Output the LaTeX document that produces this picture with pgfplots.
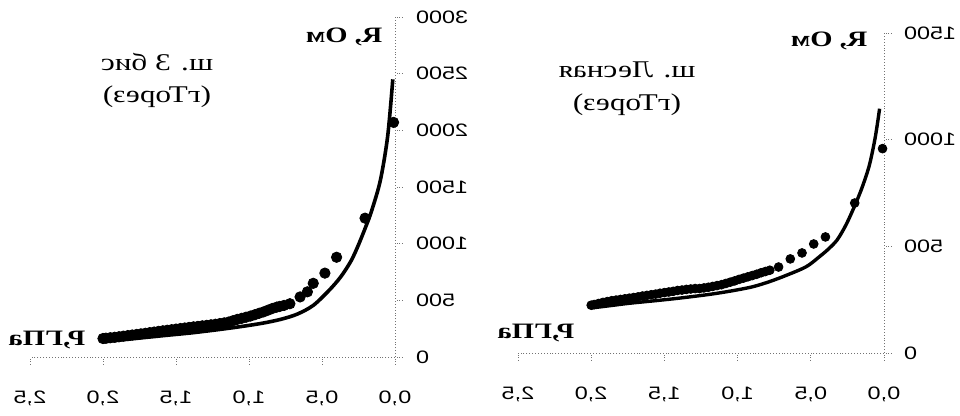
\documentclass[border=0pt]{standalone}
\usepackage{pgfplots}
\pgfplotsset{compat=1.18}
\usepackage{fontspec}
\setmainfont{Liberation Serif}
\newfontfamily\sansf{Liberation Sans}
\tikzset{mir/.style={xscale=-1.3}}
\pgfplotsset{myax/.style={
  scale only axis, x dir=reverse, xmin=0, xmax=2.5, ymin=0,
  axis x line=bottom, axis y line=right,
  axis line style={-, densely dotted, black!55, line width=0.45pt},
  tick style={densely dotted, black!55, line width=0.45pt},
  tick align=outside, major tick length=3.5pt,
  xtick={0,0.5,1,1.5,2,2.5},
  xticklabels={{0,0},{0,5},{1,0},{1,5},{2,0},{2,5}},
  xticklabel style={font=\sansf\fontsize{9}{10}\selectfont, anchor=center, yshift=-17pt, mir},
  clip=false,
}}
\begin{document}
\begin{tikzpicture}
\useasboundingbox (0,0) rectangle (480pt,208pt);
% ---------- left chart ----------
\begin{axis}[myax, at={(15pt,29.5pt)}, anchor=south west,
  width=182.5pt, height=170pt, ymax=3000,
  ytick={0,500,1000,1500,2000,2500,3000},
  yticklabels={0,500,1000,1500,2000,2500,3000},
  yticklabel style={font=\sansf\fontsize{9}{10}\selectfont, xshift=2.5pt, mir, anchor=east}]
\addplot[only marks, mark=*, mark size=2.6pt, black] table {
P R
0.01 2070
0.205 1225
0.40 880
0.48 740
0.56 650
0.60 575
0.65 530
0.72 470
0.76 455
0.79 446
0.81 440
0.84 428
0.87 413
0.90 398
0.93 386
0.96 373
0.99 361
1.02 351
1.05 341
1.08 332
1.11 320
1.14 308
1.17 301
1.20 295
1.23 289
1.26 284
1.29 279
1.32 275
1.35 270
1.38 266
1.41 261
1.44 256
1.47 251
1.50 246
1.53 241
1.56 236
1.59 231
1.62 226
1.65 220
1.68 215
1.71 209
1.74 204
1.77 199
1.80 194
1.83 189
1.86 184
1.89 179
1.92 174
1.95 170
1.98 166
2.00 163
};
\addplot[black, line width=1.8pt, smooth] table {
P R
0.015 2450
0.05 1950
0.10 1560
0.16 1290
0.20 1150
0.25 990
0.30 850
0.37 710
0.45 590
0.56 455
0.67 378
0.78 333
0.90 300
1.02 275
1.13 255
1.25 235
1.40 212
1.55 193
1.75 167
1.90 147
2.00 133
};
\end{axis}
% ---------- right chart ----------
\begin{axis}[myax, at={(259pt,31.5pt)}, anchor=south west,
  width=183pt, height=160pt, ymax=1500,
  ytick={0,500,1000,1500},
  yticklabels={0,500,1000,1500},
  yticklabel style={font=\sansf\fontsize{9}{10}\selectfont, xshift=2pt, mir, anchor=east}]
\addplot[only marks, mark=*, mark size=2.2pt, black] table {
P R
0.01 958
0.20 703
0.40 544
0.48 511
0.56 469
0.64 441
0.72 403
0.78 388
0.81 382
0.84 376
0.87 369
0.90 363
0.93 357
0.96 351
0.99 345
1.02 338
1.05 332
1.08 326
1.11 320
1.14 316
1.17 312
1.20 308
1.23 305
1.26 302
1.29 302
1.32 300
1.35 298
1.38 295
1.41 293
1.44 289
1.47 286
1.50 283
1.53 280
1.56 276
1.59 273
1.62 270
1.65 267
1.68 263
1.71 260
1.74 257
1.77 254
1.80 251
1.83 248
1.86 245
1.89 241
1.92 237
1.95 232
1.98 227
2.00 224
};
\addplot[black, line width=1.7pt, smooth] table {
P R
0.03 1145
0.06 1010
0.10 880
0.15 775
0.20 690
0.26 600
0.32 530
0.38 487
0.44 452
0.53 405
0.66 366
0.78 335
0.90 310
1.05 290
1.20 274
1.40 257
1.55 246
1.74 233
1.88 221
2.00 211
};
\end{axis}
% ---------- labels (mirrored like the scan) ----------
\node[mir, anchor=west, font=\bfseries\fontsize{11}{12}\selectfont, inner sep=0pt] at (191.5pt,189.5pt) {R, Ом};
\node[mir, anchor=east, font=\bfseries\fontsize{11}{12}\selectfont, inner sep=0pt] at (4pt,38pt) {P,ГПа};
\node[mir, font=\fontsize{12}{13}\selectfont, inner sep=0pt] at (78.5pt,177pt) {ш. 3 бис};
\node[mir, font=\fontsize{12}{13}\selectfont, inner sep=0pt] at (78.5pt,159.5pt) {(гТорез)};
\node[mir, anchor=west, font=\bfseries\fontsize{11}{12}\selectfont, inner sep=0pt] at (434pt,187.5pt) {R, Ом};
\node[mir, anchor=east, font=\bfseries\fontsize{11}{12}\selectfont, inner sep=0pt] at (248.5pt,41.5pt) {P,ГПа};
\node[mir, font=\fontsize{12}{13}\selectfont, inner sep=0pt] at (313.5pt,173pt) {ш. Лесная};
\node[mir, font=\fontsize{12}{13}\selectfont, inner sep=0pt] at (313.5pt,155.5pt) {(гТорез)};
\end{tikzpicture}
\end{document}
